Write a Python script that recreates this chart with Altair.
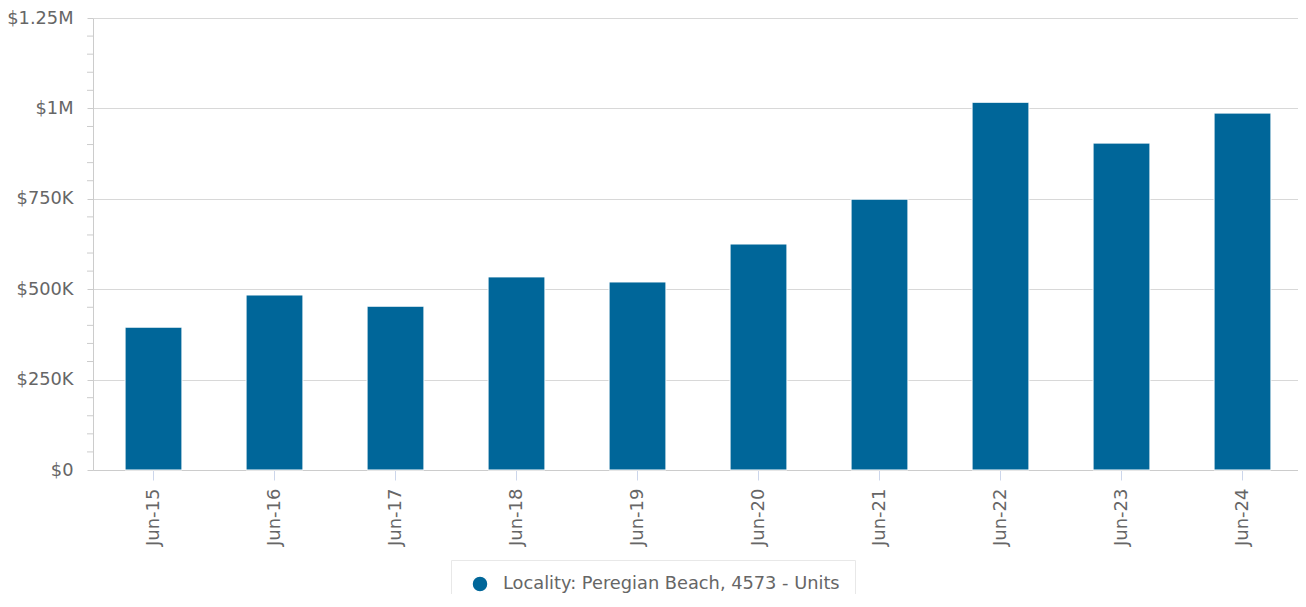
import altair as alt
import pandas as pd

categories = ["Jun-15", "Jun-16", "Jun-17", "Jun-18", "Jun-19",
              "Jun-20", "Jun-21", "Jun-22", "Jun-23", "Jun-24"]
values = [395000, 484000, 453000, 534000, 520000,
          625000, 749000, 1017000, 904000, 987000]
series_name = "Locality: Peregian Beach, 4573 - Units"
y_ticks = [0, 250000, 500000, 750000, 1000000, 1250000]
minor_ticks = [v for v in range(0, 1250001, 50000) if v % 250000 != 0]

df = pd.DataFrame({"period": categories, "value": values, "series": [series_name] * len(categories)})
minor_df = pd.DataFrame({"v": minor_ticks})

FONT = "DejaVu Sans"
TEXT = "#666666"
GRID = "#d8d8d8"

y_scale = alt.Scale(domain=[0, 1250000], nice=False)

label_expr = ("datum.value == 0 ? '$0' : datum.value >= 1000000 ? "
              "'$' + format(datum.value / 1000000, '~g') + 'M' : "
              "'$' + format(datum.value / 1000, '~g') + 'K'")

bars = alt.Chart(df).mark_bar(stroke="white", strokeWidth=1).encode(
    x=alt.X("period:N", sort=categories,
            scale=alt.Scale(paddingInner=0.53, paddingOuter=0.265, range=[0, 1210]),
            axis=alt.Axis(title=None, labelAngle=-90, labelAlign="right",
                          labelBaseline="middle", labelFontSize=18,
                          labelColor=TEXT, labelFont=FONT, labelPadding=8,
                          tickColor="#ccd6eb", tickSize=10, domainColor="#cccccc",
                          grid=False)),
    y=alt.Y("value:Q", scale=y_scale,
            axis=alt.Axis(title=None, values=y_ticks, labelExpr=label_expr,
                          labelFontSize=17.8, labelColor=TEXT, labelFont=FONT,
                          labelPadding=14, tickSize=6, tickColor="#cccccc",
                          domainColor="#cccccc", gridColor=GRID)),
    color=alt.Color("series:N",
                    scale=alt.Scale(domain=[series_name], range=["#006699"]),
                    legend=alt.Legend(title=None, orient="none", legendX=358, legendY=542,
                                      symbolType="circle", symbolSize=256,
                                      symbolOffset=5, labelOffset=14,
                                      labelFontSize=17.8, labelColor=TEXT, labelFont=FONT,
                                      padding=15, strokeColor="#e8e8e8", fillColor="white",
                                      labelLimit=600)),
)

minor = alt.Chart(minor_df).mark_rule(color="#cccccc").encode(
    y=alt.Y("v:Q", scale=y_scale),
    x=alt.value(-6),
    x2=alt.value(0),
)

chart = alt.layer(bars, minor).properties(
    width=1205, height=452,
    autosize=alt.AutoSizeParams(type="none"),
    padding={"left": 85, "top": 10, "right": 0, "bottom": 124},
).configure_view(stroke=None)

chart.save("out.html", embed_options={"renderer": "svg", "actions": False})
